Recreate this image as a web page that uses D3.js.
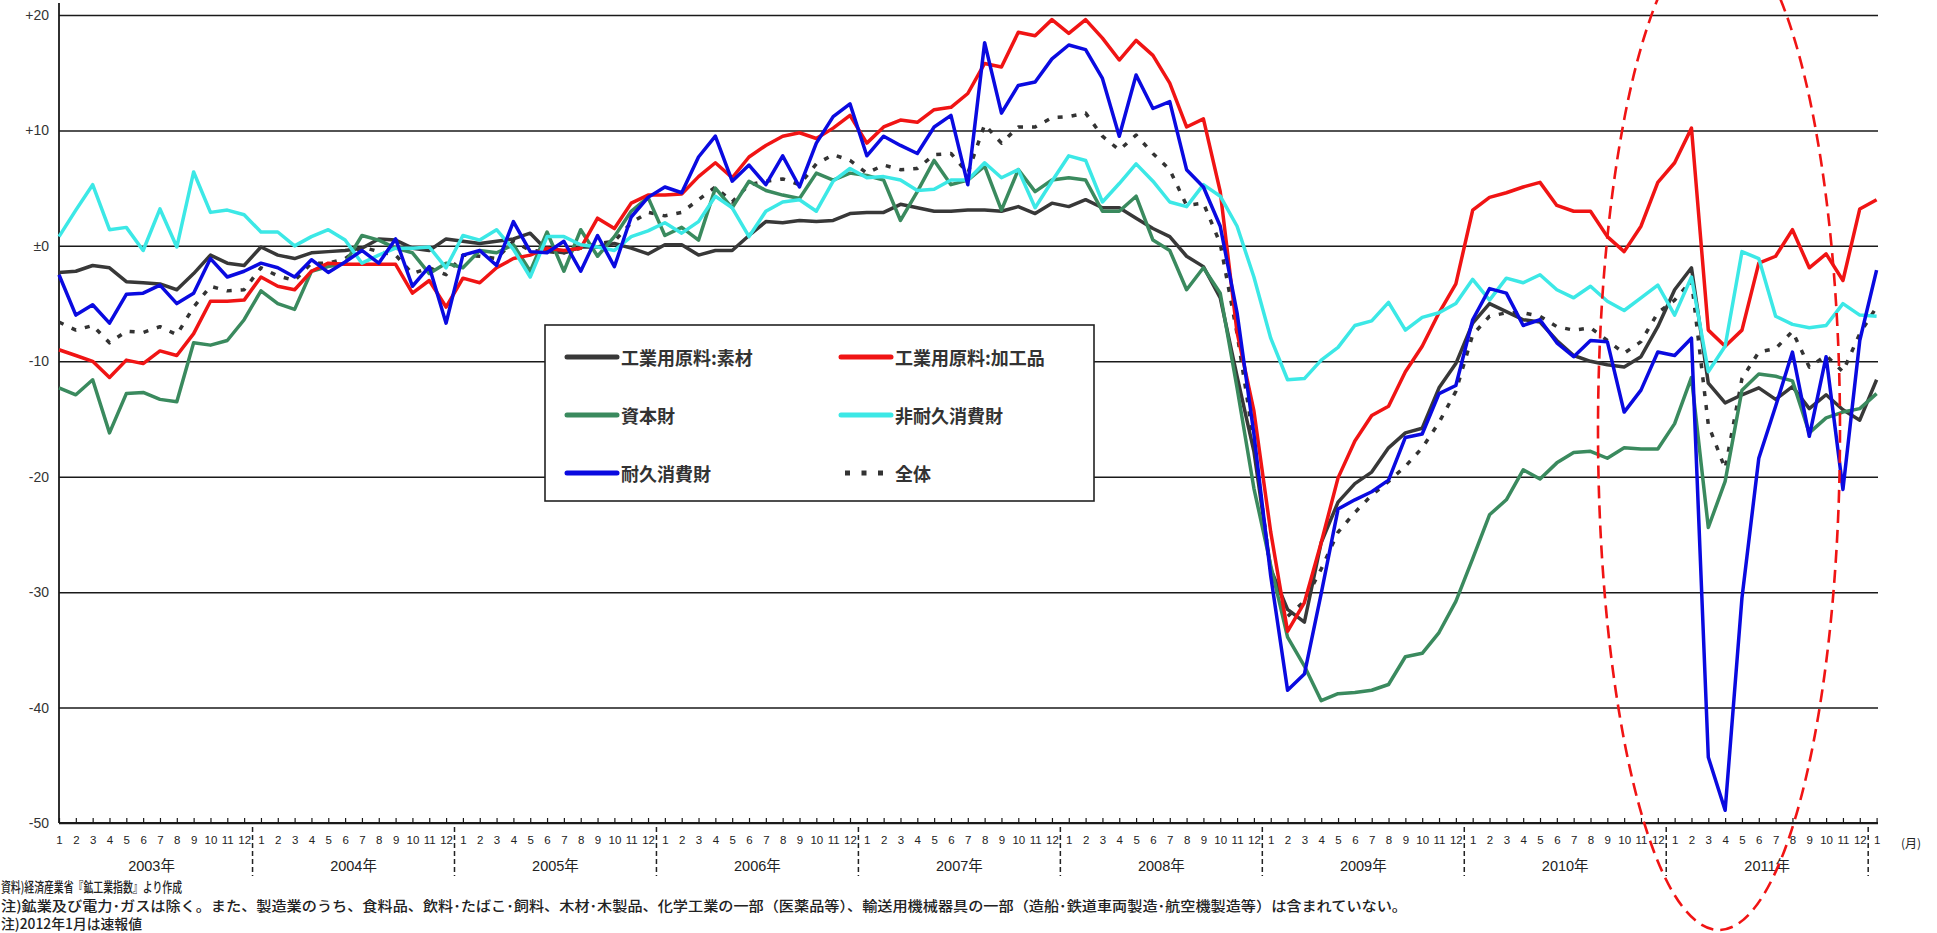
<!DOCTYPE html>
<html>
<head>
<meta charset="utf-8">
<script src="https://cdn.jsdelivr.net/npm/d3@7"></script>
<style>
  html, body { margin: 0; padding: 0; background: #fff; }
  svg { display: block; }
</style>
</head>
<body>
<svg id="chart" width="1937" height="933"></svg>
<script>
// ---------------- data (前年同月比, %) 2003年1月〜2012年1月 ----------------
const monthTicks = ["1","2","3","4","5","6","7","8","9","10","11","12"];
const yearLabels = ["2003年","2004年","2005年","2006年","2007年","2008年","2009年","2010年","2011年"];
const yTickValues = [20, 10, 0, -10, -20, -30, -40, -50];
const yTickLabels = ["+20", "+10", "±0", "-10", "-20", "-30", "-40", "-50"];

const seriesNames = ["工業用原料:素材", "工業用原料:加工品", "資本財", "非耐久消費財", "耐久消費財", "全体"];

const sozai = [
  -2.3, -2.2, -1.7, -1.9, -3.1, -3.2, -3.3, -3.8, -2.4, -0.8, -1.5, -1.7,
  -0.1, -0.8, -1.1, -0.6, -0.5, -0.4, -0.2, 0.6, 0.5, -0.2, -0.4, 0.6,
  0.4, 0.2, 0.4, 0.6, 1.1, -0.4, -0.6, -0.1, -0.1, 0.2, -0.2, -0.7,
  0.1, 0.1, -0.8, -0.4, -0.4, 0.9, 2.1, 2.0, 2.2, 2.1, 2.2, 2.8,
  2.9, 2.9, 3.6, 3.3, 3.0, 3.0, 3.1, 3.1, 3.0, 3.4, 2.8, 3.7,
  3.4, 4.0, 3.3, 3.3, 2.4, 1.5, 0.8, -0.9, -1.8, -4.5, -11.3, -17.8,
  -28.0, -31.5, -32.6, -25.7, -22.2, -20.6, -19.6, -17.5, -16.2, -15.8, -12.3, -10.2,
  -6.7, -5.0, -5.7, -6.4, -6.6, -8.2, -9.5, -10.0, -10.3, -10.5, -9.6, -7.0,
  -3.8, -1.9, -11.9, -13.6, -12.9, -12.3, -13.3, -12.2, -14.1, -12.9, -14.2, -15.1,
  -11.6
];
const kakouhin = [
  -9.0, -9.5, -10.0, -11.4, -9.9, -10.2, -9.1, -9.5, -7.6, -4.8, -4.8, -4.7,
  -2.7, -3.5, -3.8, -2.2, -1.5, -1.6, -1.6, -1.6, -1.6, -4.1, -3.0, -5.3,
  -2.8, -3.2, -1.9, -1.1, -0.8, -0.2, -0.4, -0.2, 2.4, 1.5, 3.7, 4.4,
  4.4, 4.5, 6.0, 7.2, 5.9, 7.7, 8.7, 9.5, 9.8, 9.3, 10.2, 11.3,
  8.9, 10.3, 10.9, 10.7, 11.8, 12.0, 13.2, 15.8, 15.5, 18.5, 18.2, 19.6,
  18.4, 19.6, 18.0, 16.1, 17.8, 16.5, 14.1, 10.3, 11.0, 4.7, -7.5, -14.3,
  -24.8, -33.4, -30.9, -25.7, -20.1, -16.9, -14.7, -13.9, -10.9, -8.7, -5.8, -3.3,
  3.1, 4.2, 4.6, 5.1, 5.5, 3.5, 3.0, 3.0, 0.8, -0.5, 1.7, 5.5,
  7.2, 10.2, -7.3, -8.7, -7.3, -1.5, -0.9, 1.4, -1.9, -0.7, -3.0, 3.2,
  4.0
];
const shihonzai = [
  -12.3, -12.9, -11.6, -16.2, -12.8, -12.7, -13.3, -13.5, -8.4, -8.6, -8.2, -6.4,
  -3.9, -5.0, -5.5, -2.2, -1.8, -1.5, 0.9, 0.5, -0.2, -0.6, -2.4, -1.5,
  -1.9, -0.4, -0.6, 0.1, -2.2, 1.2, -2.2, 1.4, -0.9, 0.8, 3.0, 4.2,
  0.9, 1.6, 0.5, 5.0, 3.3, 5.6, 4.8, 4.4, 4.1, 6.3, 5.7, 6.3,
  6.1, 5.7, 2.2, 4.7, 7.4, 5.3, 5.7, 6.9, 3.1, 6.6, 4.7, 5.7,
  5.9, 5.7, 3.0, 3.0, 4.3, 0.5, -0.4, -3.8, -1.9, -4.1, -12.3, -21.0,
  -27.7, -33.9, -36.4, -39.4, -38.8, -38.7, -38.5, -38.0, -35.6, -35.3, -33.5, -30.8,
  -27.1, -23.3, -22.0, -19.4, -20.2, -18.8, -17.9, -17.8, -18.4, -17.5, -17.6, -17.6,
  -15.4, -11.4, -24.4, -20.4, -12.5, -11.1, -11.3, -11.7, -16.2, -14.9, -14.4, -14.1,
  -12.8
];
const hitaikyu = [
  0.8, 3.1, 5.3, 1.4, 1.6, -0.4, 3.2, -0.1, 6.4, 2.9, 3.1, 2.7,
  1.2, 1.2, 0.0, 0.8, 1.4, 0.5, -1.5, -0.8, -0.2, -0.2, -0.1, -1.9,
  0.9, 0.5, 1.4, -0.3, -2.7, 0.8, 0.8, 0.1, -0.1, -0.4, 0.8, 1.3,
  2.0, 1.1, 2.1, 4.3, 3.3, 0.8, 3.0, 3.8, 4.0, 3.0, 5.6, 6.7,
  5.9, 6.0, 5.7, 4.8, 4.9, 5.7, 5.7, 7.2, 5.9, 6.6, 3.3, 5.6,
  7.8, 7.4, 3.8, 5.4, 7.1, 5.6, 3.8, 3.4, 5.3, 4.3, 1.7, -2.7,
  -8.0, -11.6, -11.5, -9.9, -8.8, -6.9, -6.5, -4.9, -7.3, -6.2, -5.8, -5.0,
  -2.9, -4.7, -2.8, -3.2, -2.5, -3.8, -4.5, -3.5, -4.8, -5.6, -4.5, -3.4,
  -6.0, -2.7, -10.9, -8.7, -0.5, -1.1, -6.1, -6.8, -7.1, -6.9, -5.0, -6.0,
  -6.1
];
const taikyu = [
  -2.5, -6.0, -5.1, -6.7, -4.2, -4.1, -3.4, -5.0, -4.1, -1.1, -2.7, -2.2,
  -1.5, -1.9, -2.7, -1.2, -2.3, -1.4, -0.4, -1.5, 0.6, -3.5, -1.8, -6.7,
  -0.8, -0.4, -1.7, 2.1, -0.5, -0.6, 0.4, -2.2, 0.9, -1.8, 2.5, 4.2,
  5.1, 4.6, 7.7, 9.5, 5.6, 7.0, 5.3, 7.8, 5.1, 8.9, 11.2, 12.3,
  7.8, 9.5, 8.7, 8.0, 10.3, 11.3, 5.3, 17.6, 11.5, 13.9, 14.2, 16.2,
  17.4, 17.0, 14.5, 9.5, 14.8, 11.9, 12.5, 6.6, 5.1, 1.7, -5.8, -16.3,
  -28.6, -38.5, -37.1, -30.1, -22.8, -22.0, -21.3, -20.3, -16.6, -16.3, -12.8, -12.1,
  -6.4, -3.7, -4.1, -6.9, -6.4, -8.4, -9.6, -8.2, -8.3, -14.4, -12.5, -9.2,
  -9.5, -8.0, -44.3, -48.9, -30.5, -18.4, -13.9, -9.2, -16.5, -9.6, -21.1, -8.2,
  -2.1
];
const zentai = [
  -6.6, -7.3, -6.9, -8.4, -7.4, -7.5, -7.0, -7.7, -5.3, -3.5, -3.9, -3.8,
  -1.9, -2.6, -3.0, -1.5, -1.5, -1.1, -0.1, -0.5, -0.8, -2.4, -1.9, -2.5,
  -0.8, -0.9, -1.1, 0.4, -0.4, -0.5, -0.6, -0.2, 0.2, 0.4, 2.0, 2.9,
  2.6, 2.9, 4.0, 5.1, 3.8, 5.3, 5.6, 5.8, 5.3, 7.1, 7.9, 7.4,
  6.3, 7.0, 6.6, 6.7, 7.9, 8.0, 6.3, 10.5, 8.9, 10.3, 10.3, 11.1,
  11.2, 11.5, 9.5, 8.3, 9.6, 8.0, 6.6, 3.5, 3.7, 0.2, -7.6, -17.0,
  -28.3, -32.1, -30.8, -28.0, -24.8, -23.1, -21.6, -20.4, -19.1, -17.5, -15.3, -12.6,
  -7.7, -6.1, -5.8, -5.8, -6.1, -7.0, -7.3, -7.1, -8.2, -9.3, -8.3, -5.8,
  -4.7, -3.0, -15.5, -19.3, -11.5, -9.2, -8.9, -7.4, -10.5, -9.5, -10.9, -7.6,
  -5.3
];

const notes = [
  "資料)経済産業省『鉱工業指数』より作成",
  "注)鉱業及び電力･ガスは除く。また、製造業のうち、食料品、飲料･たばこ･飼料、木材･木製品、化学工業の一部（医薬品等）、輸送用機械器具の一部（造船･鉄道車両製造･航空機製造等）は含まれていない。",
  "注)2012年1月は速報値"
];

// ---------------- drawing ----------------
const svg = d3.select("#chart");
const W = 1937, H = 933;
svg.append("rect").attr("width", W).attr("height", H).attr("fill", "#fff");

const nPoints = sozai.length;            // 109 months
const left = 59, right = 1876.6, gridRight = 1878;
const x = d3.scaleLinear().domain([0, nPoints - 1]).range([left, right]);
const y = d3.scaleLinear().domain([-50, 20]).range([823, 15]);

const jp = "'Noto Sans CJK JP', 'Liberation Sans', sans-serif";
const num = "'Liberation Sans', 'Noto Sans CJK JP', sans-serif";

// horizontal grid + y labels via axis
const yAxis = d3.axisLeft(y)
  .tickValues(yTickValues)
  .tickFormat((d, i) => yTickLabels[i])
  .tickSizeInner(-(gridRight - left))
  .tickSizeOuter(0)
  .tickPadding(10);
const gy = svg.append("g").attr("transform", `translate(${left},0)`).call(yAxis);
gy.select(".domain").remove();
gy.selectAll(".tick line").attr("stroke", "#1a1a1a").attr("stroke-width", 1.5);
gy.selectAll(".tick text")
  .attr("font-family", num).attr("font-size", 14).attr("fill", "#333");

// vertical axis line
svg.append("line").attr("x1", left).attr("x2", left).attr("y1", 3).attr("y2", y(-50))
  .attr("stroke", "#1a1a1a").attr("stroke-width", 1.8);

// x axis ticks (upward) + month labels
const idx = d3.range(nPoints);
const xAxis = d3.axisBottom(x)
  .tickValues(idx)
  .tickFormat(i => monthTicks[i % 12])
  .tickSizeInner(-5)
  .tickSizeOuter(0)
  .tickPadding(13);
const gx = svg.append("g").attr("transform", `translate(0,${y(-50)})`).call(xAxis);
gx.select(".domain").remove();
gx.selectAll(".tick line").attr("stroke", "#1a1a1a").attr("stroke-width", 1.2);
gx.selectAll(".tick text")
  .attr("font-family", num).attr("font-size", 11.5).attr("fill", "#222");
svg.append("line").attr("x1", left).attr("x2", gridRight).attr("y1", y(-50)).attr("y2", y(-50))
  .attr("stroke", "#1a1a1a").attr("stroke-width", 1.8);

// year separators
const seps = d3.range(1, yearLabels.length + 1).map(k => 12 * k - 0.5);
svg.append("g").selectAll("line").data(seps).join("line")
  .attr("x1", d => x(d)).attr("x2", d => x(d))
  .attr("y1", 827).attr("y2", 876)
  .attr("stroke", "#222").attr("stroke-width", 1.5).attr("stroke-dasharray", "5,3");

// year labels
svg.append("g").selectAll("text").data(yearLabels).join("text")
  .attr("x", (d, i) => (x(12 * i) + x(12 * i + 11)) / 2)
  .attr("y", 866)
  .attr("text-anchor", "middle").attr("dominant-baseline", "central")
  .attr("font-family", num).attr("font-size", 14.5).attr("fill", "#222")
  .text(d => d);

// (月)
svg.append("text").attr("x", 1911).attr("y", 842)
  .attr("text-anchor", "middle").attr("dominant-baseline", "central")
  .attr("font-family", jp).attr("font-size", 12).attr("fill", "#222").text("(月)");

// series
const series = [
  { name: seriesNames[5], values: zentai,    color: "#333333", width: 3.5, dash: "5,9" },
  { name: seriesNames[0], values: sozai,     color: "#383838", width: 3.5 },
  { name: seriesNames[2], values: shihonzai, color: "#3a8a5e", width: 3.5 },
  { name: seriesNames[1], values: kakouhin,  color: "#f01414", width: 3.5 },
  { name: seriesNames[3], values: hitaikyu,  color: "#3ce8e6", width: 3.5 },
  { name: seriesNames[4], values: taikyu,    color: "#0a0ae0", width: 3.5 }
];
const line = d3.line().x((d, i) => x(i)).y(d => y(d));
svg.append("g").selectAll("path").data(series).join("path")
  .attr("d", d => line(d.values))
  .attr("fill", "none")
  .attr("stroke", d => d.color)
  .attr("stroke-width", d => d.width)
  .attr("stroke-linejoin", "round")
  .attr("stroke-dasharray", d => d.dash || null);

// legend
const lg = svg.append("g");
lg.append("rect").attr("x", 545).attr("y", 325).attr("width", 549).attr("height", 176)
  .attr("fill", "#fff").attr("stroke", "#222").attr("stroke-width", 1.6);
const legendItems = [
  { s: series[1], col: 0, row: 0 },
  { s: series[3], col: 1, row: 0 },
  { s: series[2], col: 0, row: 1 },
  { s: series[4], col: 1, row: 1 },
  { s: series[5], col: 0, row: 2 },
  { s: series[0], col: 1, row: 2 }
];
const colX = [567, 841], rowY = [357, 415, 473];
legendItems.forEach(it => {
  const lx = colX[it.col], ly = rowY[it.row];
  const isDash = !!it.s.dash;
  lg.append("line").attr("x1", lx + (isDash ? 4 : 0)).attr("x2", lx + 50).attr("y1", ly).attr("y2", ly)
    .attr("stroke", it.s.color).attr("stroke-width", 5)
    .attr("stroke-linecap", isDash ? "butt" : "round")
    .attr("stroke-dasharray", isDash ? "5,11.5" : null);
  lg.append("text").attr("x", lx + 54).attr("y", ly)
    .attr("dominant-baseline", "central")
    .attr("font-family", jp).attr("font-size", 18).attr("font-weight", "bold").attr("fill", "#333")
    .text(it.s.name);
});

// red dashed ellipse annotation
svg.append("ellipse").attr("cx", 1719).attr("cy", 430).attr("rx", 121).attr("ry", 500)
  .attr("fill", "none").attr("stroke", "#f01414").attr("stroke-width", 2.6)
  .attr("stroke-dasharray", "13,7");

// notes
const noteY = [886, 905, 923];
const noteLen = [181, 1406, 141];
svg.append("g").selectAll("text").data(notes).join("text")
  .attr("x", 1).attr("y", (d, i) => noteY[i])
  .attr("dominant-baseline", "central")
  .attr("font-family", jp).attr("font-size", 14).attr("font-weight", 500).attr("fill", "#222")
  .attr("textLength", (d, i) => noteLen[i]).attr("lengthAdjust", "spacingAndGlyphs")
  .text(d => d);
</script>
</body>
</html>
